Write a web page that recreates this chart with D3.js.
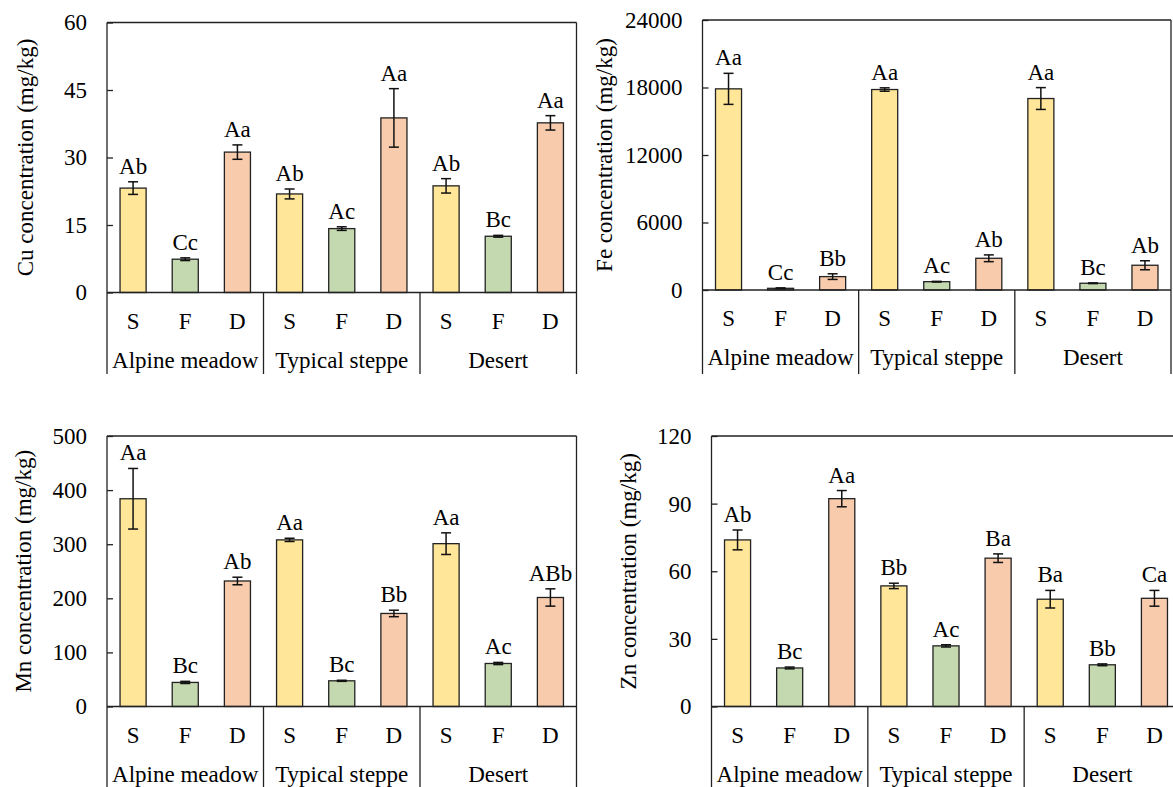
<!DOCTYPE html>
<html>
<head>
<meta charset="utf-8">
<script src="https://cdn.jsdelivr.net/npm/d3@7"></script>
<style>
  body { margin: 0; background: #fff; }
  text { font-family: "Liberation Serif", "Times New Roman", serif; fill: #000; }
</style>
</head>
<body>
<div id="chart"></div>
<script>
var svgWidth = 1173
var svgHeight = 787

// categories
var groups = ["Alpine meadow", "Typical steppe", "Desert"];
var parts = ["S", "F", "D"];
var partColors = ["#ffe699", "#c5d9b0", "#f8cbad"];

// Cu
var cuMean = [23.2, 7.4, 31.2, 21.9, 14.2, 38.8, 23.7, 12.5, 37.7];
var cuErr = [1.4, 0.3, 1.6, 1.1, 0.4, 6.5, 1.6, 0.2, 1.6];
var cuLetters = ["Ab", "Cc", "Aa", "Ab", "Ac", "Aa", "Ab", "Bc", "Aa"];
var cuTicks = [0, 15, 30, 45, 60];

// Fe
var feMean = [17880, 150, 1190, 17820, 740, 2820, 17020, 600, 2200];
var feErr = [1380, 40, 250, 150, 30, 300, 970, 30, 400];
var feLetters = ["Aa", "Cc", "Bb", "Aa", "Ac", "Ab", "Aa", "Bc", "Ab"];
var feTicks = [0, 6000, 12000, 18000, 24000];

// Mn
var mnMean = [384, 44.5, 232, 308, 47.5, 172, 301, 79.5, 201.5];
var mnErr = [56, 2, 7, 3, 1, 6, 20, 2, 16];
var mnLetters = ["Aa", "Bc", "Ab", "Aa", "Bc", "Bb", "Aa", "Ac", "ABb"];
var mnTicks = [0, 100, 200, 300, 400, 500];

// Zn
var znMean = [73.9, 17.1, 92.2, 53.5, 26.9, 65.8, 47.6, 18.5, 48.0];
var znErr = [4.4, 0.4, 3.6, 1.2, 0.5, 1.9, 3.9, 0.4, 3.5];
var znLetters = ["Ab", "Bc", "Aa", "Bb", "Ac", "Ba", "Ba", "Bb", "Ca"];
var znTicks = [0, 30, 60, 90, 120];

var svg = d3.select("#chart")
  .append("svg")
  .attr("width", svgWidth)
  .attr("height", svgHeight);

var lineColor = "#222";

function drawPanel(p) {
  var g = svg.append("g");

  var rows = p.mean.map(function(m, i) {
    return {
      i: i,
      mean: m,
      err: p.err[i],
      letter: p.letters[i],
      part: parts[i % 3],
      color: partColors[i % 3]
    };
  });

  var x = d3.scaleBand()
    .domain(d3.range(9))
    .range([p.left, p.right])
    .paddingInner(0.5)
    .paddingOuter(0.25);

  var gx = d3.scaleBand()
    .domain(groups)
    .range([p.left, p.right]);

  var y = d3.scaleLinear()
    .domain([0, p.ticks[p.ticks.length - 1]])
    .range([p.zero, p.top]);

  // y axis with inward ticks
  var leftAxis = d3.axisLeft(y)
    .tickValues(p.ticks)
    .tickFormat(d3.format("d"))
    .tickSizeInner(-6)
    .tickSizeOuter(0)
    .tickPadding(20);

  var ax = g.append("g")
    .attr("transform", `translate(${p.left}, 0)`)
    .call(leftAxis);
  ax.select(".domain").remove();
  ax.selectAll(".tick line").attr("stroke", lineColor).attr("stroke-width", 1.3);
  ax.selectAll(".tick text")
    .attr("font-size", "23px")
    .attr("font-family", "Liberation Serif")
    .attr("fill", "#000");

  // bars
  g.selectAll("rect.bar")
    .data(rows)
    .enter()
    .append("rect")
    .attr("class", "bar")
    .attr("x", d => x(d.i))
    .attr("y", d => y(d.mean))
    .attr("width", x.bandwidth())
    .attr("height", d => y(0) - y(d.mean))
    .attr("fill", d => d.color)
    .attr("stroke", lineColor)
    .attr("stroke-width", 1.3);

  // error bars
  var cap = 5;
  var eb = g.selectAll("g.err")
    .data(rows)
    .enter()
    .append("g")
    .attr("class", "err")
    .attr("stroke", "#111")
    .attr("stroke-width", 1.5);
  eb.append("line")
    .attr("x1", d => x(d.i) + x.bandwidth() / 2)
    .attr("x2", d => x(d.i) + x.bandwidth() / 2)
    .attr("y1", d => y(d.mean + d.err))
    .attr("y2", d => y(d.mean - d.err));
  eb.append("line")
    .attr("x1", d => x(d.i) + x.bandwidth() / 2 - cap)
    .attr("x2", d => x(d.i) + x.bandwidth() / 2 + cap)
    .attr("y1", d => y(d.mean + d.err))
    .attr("y2", d => y(d.mean + d.err));
  eb.append("line")
    .attr("x1", d => x(d.i) + x.bandwidth() / 2 - cap)
    .attr("x2", d => x(d.i) + x.bandwidth() / 2 + cap)
    .attr("y1", d => y(d.mean - d.err))
    .attr("y2", d => y(d.mean - d.err));

  // significance letters
  g.selectAll("text.letter")
    .data(rows)
    .enter()
    .append("text")
    .attr("class", "letter")
    .attr("x", d => x(d.i) + x.bandwidth() / 2)
    .attr("y", d => y(d.mean + d.err) - 8)
    .attr("text-anchor", "middle")
    .attr("font-size", "23px")
    .text(d => d.letter);

  // frame: top, left, right, zero line, group separators
  var frame = g.append("g")
    .attr("stroke", lineColor)
    .attr("stroke-width", 1.3)
    .attr("fill", "none");
  frame.append("line")
    .attr("x1", p.left).attr("x2", p.right)
    .attr("y1", p.top).attr("y2", p.top);
  frame.append("line")
    .attr("x1", p.left).attr("x2", p.right)
    .attr("y1", y(0)).attr("y2", y(0));
  [p.left, p.right].forEach(function(xx) {
    frame.append("line")
      .attr("x1", xx).attr("x2", xx)
      .attr("y1", p.top).attr("y2", p.bottom);
  });
  groups.slice(1).forEach(function(grp) {
    frame.append("line")
      .attr("x1", gx(grp)).attr("x2", gx(grp))
      .attr("y1", y(0)).attr("y2", p.bottom);
  });

  // S / F / D labels
  g.selectAll("text.part")
    .data(rows)
    .enter()
    .append("text")
    .attr("class", "part")
    .attr("x", d => x(d.i) + x.bandwidth() / 2)
    .attr("y", y(0) + 36)
    .attr("text-anchor", "middle")
    .attr("font-size", "23px")
    .text(d => d.part);

  // group labels
  g.selectAll("text.grp")
    .data(groups)
    .enter()
    .append("text")
    .attr("class", "grp")
    .attr("x", d => gx(d) + gx.bandwidth() / 2)
    .attr("y", y(0) + 75)
    .attr("text-anchor", "middle")
    .attr("font-size", "23px")
    .text(d => d);

  // y title
  g.append("text")
    .attr("transform", `translate(${p.titleX}, ${(p.top + p.zero) / 2}) rotate(-90)`)
    .attr("dy", "0.35em")
    .attr("text-anchor", "middle")
    .attr("font-size", "23px")
    .text(p.title);
}

drawPanel({
  mean: cuMean, err: cuErr, letters: cuLetters, ticks: cuTicks,
  title: "Cu concentration (mg/kg)",
  left: 107, right: 576.5, top: 22.5, zero: 292.5, bottom: 374, titleX: 25
});

drawPanel({
  mean: feMean, err: feErr, letters: feLetters, ticks: feTicks,
  title: "Fe concentration (mg/kg)",
  left: 702.5, right: 1171, top: 20, zero: 290, bottom: 374, titleX: 604
});

drawPanel({
  mean: mnMean, err: mnErr, letters: mnLetters, ticks: mnTicks,
  title: "Mn concentration (mg/kg)",
  left: 107, right: 576.5, top: 436, zero: 706.5, bottom: 790, titleX: 23
});

drawPanel({
  mean: znMean, err: znErr, letters: znLetters, ticks: znTicks,
  title: "Zn concentration (mg/kg)",
  left: 711.5, right: 1180.5, top: 436, zero: 706.5, bottom: 790, titleX: 628
});
</script>
</body>
</html>
